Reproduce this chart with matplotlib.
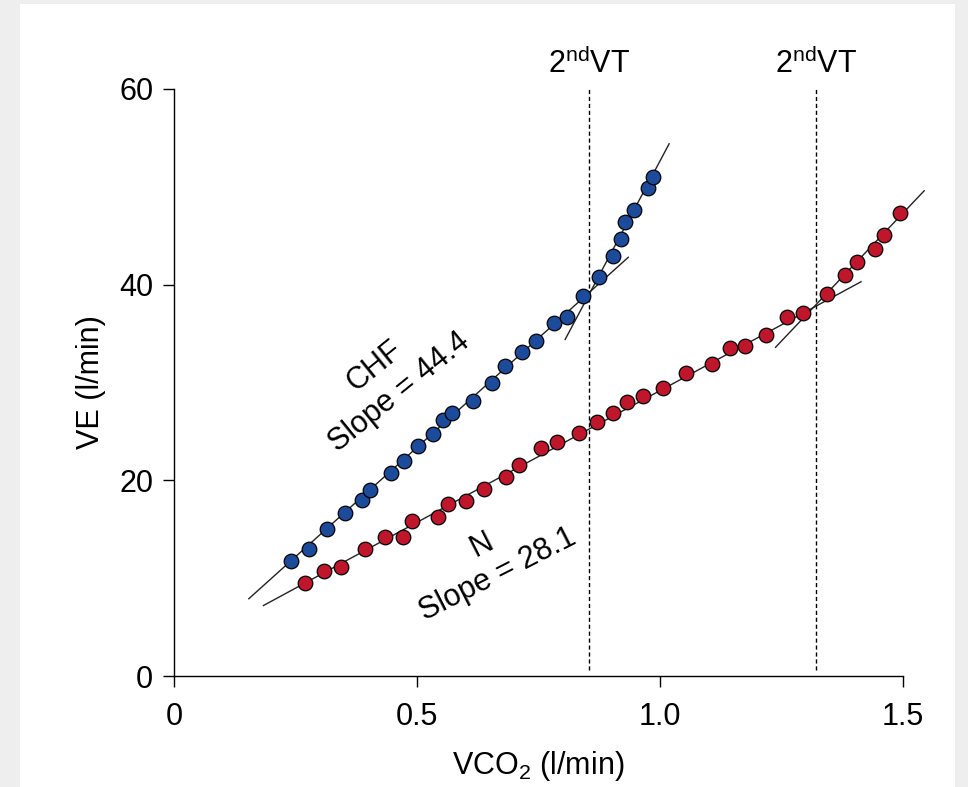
import matplotlib.pyplot as plt
from matplotlib.patches import Rectangle

plt.rcParams['font.family'] = ['Liberation Sans Narrow', 'Liberation Sans', 'DejaVu Sans']
plt.rcParams['mathtext.default'] = 'regular'

# CHF patient: VCO2 (l/min) vs VE (l/min)
chf_x = [0.240, 0.278, 0.314, 0.352, 0.386, 0.403, 0.446, 0.474, 0.503, 0.533,
         0.554, 0.573, 0.616, 0.654, 0.682, 0.717, 0.746, 0.782, 0.808, 0.842,
         0.875, 0.904, 0.919, 0.928, 0.946, 0.976, 0.985]
chf_y = [11.8, 13.0, 15.0, 16.7, 18.0, 19.0, 20.7, 22.0, 23.5, 24.7,
         26.2, 26.9, 28.1, 30.0, 31.7, 33.1, 34.2, 36.1, 36.7, 38.8,
         40.8, 42.9, 44.7, 46.4, 47.6, 49.9, 51.0]

# normal subject
n_x = [0.269, 0.308, 0.343, 0.393, 0.435, 0.472, 0.489, 0.544, 0.563, 0.601,
       0.638, 0.684, 0.710, 0.755, 0.789, 0.834, 0.870, 0.904, 0.932, 0.966,
       1.007, 1.053, 1.108, 1.144, 1.176, 1.218, 1.261, 1.294, 1.343, 1.381,
       1.406, 1.442, 1.461, 1.494]
n_y = [9.5, 10.7, 11.1, 13.0, 14.2, 14.2, 15.8, 16.3, 17.6, 17.9,
       19.1, 20.3, 21.6, 23.3, 23.9, 24.8, 26.0, 26.9, 28.0, 28.6,
       29.4, 31.0, 31.9, 33.5, 33.7, 34.9, 36.7, 37.1, 39.0, 41.0,
       42.3, 43.6, 45.1, 47.3]

# regression segments (x pair, y pair)
chf_fit1 = ([0.154, 0.935], [7.9, 42.8])
chf_fit2 = ([0.805, 1.019], [34.4, 54.4])
n_fit1 = ([0.184, 1.414], [7.2, 40.3])
n_fit2 = ([1.238, 1.544], [33.6, 49.6])

vt_x = [0.854, 1.321]  # 2nd ventilatory thresholds

blue = '#1d4b9b'
red = '#c0162c'
fs = 22

fig = plt.figure(figsize=(9.68, 7.87), dpi=100, facecolor='#eeeeee')
fig.patches.append(Rectangle((20 / 968, 0), 935 / 968, 783 / 787,
                             transform=fig.transFigure, facecolor='white',
                             edgecolor='none', zorder=-10))
ax = fig.add_axes([174 / 968, 1 - 676 / 787, 758 / 968, 587 / 787])
ax.set_facecolor('none')

for fx, fy in (chf_fit1, chf_fit2, n_fit1, n_fit2):
    ax.plot(fx, fy, color='#222222', lw=1.0, zorder=2)

ax.plot(chf_x, chf_y, 'o', color=blue, mec='black', mew=0.9, ms=10.5, zorder=3)
ax.plot(n_x, n_y, 'o', color=red, mec='black', mew=0.9, ms=10.5, zorder=3)

for x in vt_x:
    ax.plot([x, x], [0.6, 60], color='black', lw=1.0, ls=(0, (3, 2)), zorder=1)
    ax.text(x, 61.6, '2$^{nd}$VT', ha='center', va='baseline', fontsize=fs,
            clip_on=False)

ax.text(0.4136, 31.7, 'CHF', rotation=39, ha='center', va='center',
        fontsize=fs, rotation_mode='anchor')
ax.text(0.463, 29.0, 'Slope = 44.4', rotation=39, ha='center', va='center',
        fontsize=fs, rotation_mode='anchor')
ax.text(0.633, 13.4, 'N', rotation=27, ha='center', va='center',
        fontsize=fs, rotation_mode='anchor')
ax.text(0.667, 10.4, 'Slope = 28.1', rotation=27, ha='center', va='center',
        fontsize=fs, rotation_mode='anchor')

ax.set_xlim(0, 1.56)
ax.set_ylim(0, 60)
ax.spines['top'].set_visible(False)
ax.spines['right'].set_visible(False)
ax.spines['bottom'].set_bounds(0, 1.5)
for s in ('left', 'bottom'):
    ax.spines[s].set_linewidth(1.0)
ax.set_xticks([0, 0.5, 1.0, 1.5])
ax.set_xticklabels(['0', '0.5', '1.0', '1.5'])
ax.set_yticks([0, 20, 40, 60])
ax.tick_params(direction='out', length=8, width=1, labelsize=fs)
ax.tick_params(axis='x', pad=11)
ax.tick_params(axis='y', pad=7)

ax.set_xlabel('VCO$_2$ (l/min)', fontsize=fs)
ax.set_ylabel('VE (l/min)', fontsize=fs)
ax.xaxis.set_label_coords(0.48, -0.125)
ax.yaxis.set_label_coords(-0.09, 0.5)

fig.savefig('out.png', dpi=100, facecolor=fig.get_facecolor())
